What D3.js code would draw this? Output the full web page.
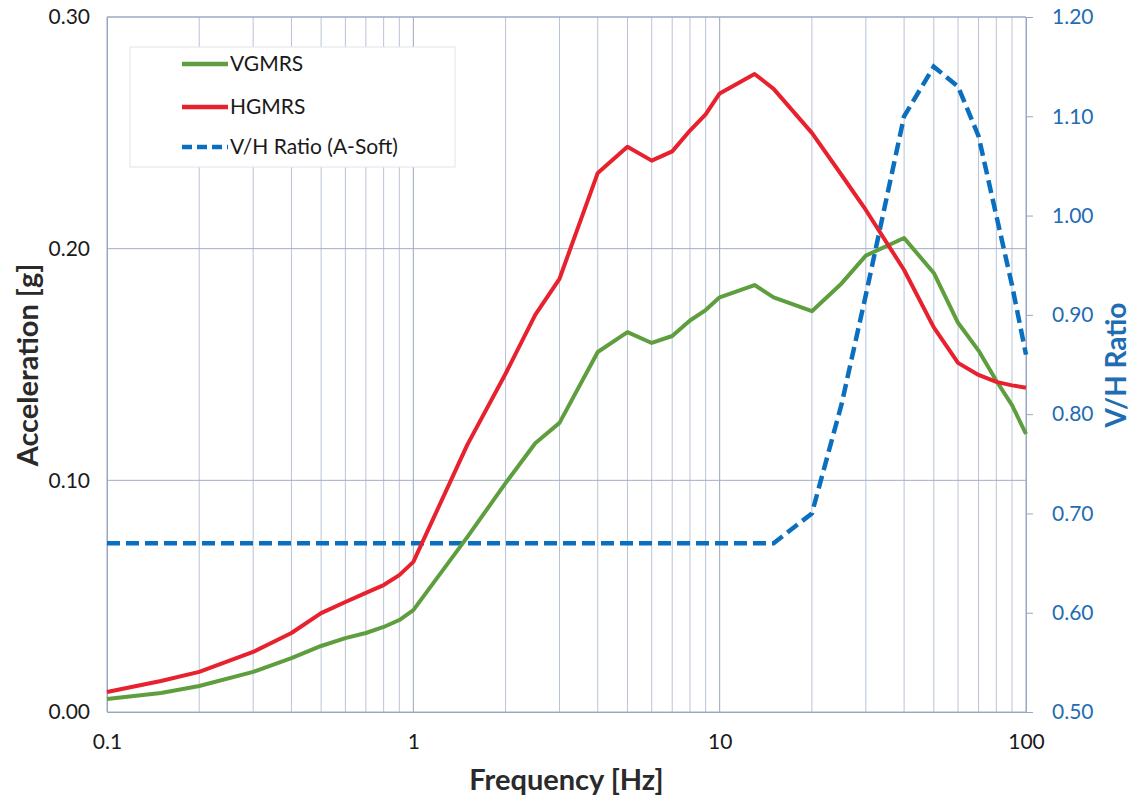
<!DOCTYPE html>
<html lang="en">
<head>
<meta charset="UTF-8">
<title>GMRS and V/H ratio</title>
<script src="https://cdn.jsdelivr.net/npm/d3@7"></script>
<style>
  body { margin: 0; background: #fff; font-family: 'Lato', 'Open Sans', sans-serif; }
  svg text { font-family: 'Lato', 'Open Sans', sans-serif; }
</style>
</head>
<body>
<div id="chart"></div>
<script>
// frequencies [Hz]
const freq = [0.1, 0.15, 0.2, 0.3, 0.4, 0.5, 0.6, 0.7, 0.8, 0.9, 1, 1.5, 2, 2.5, 3, 4, 5, 6, 7, 8, 9, 10,
              13, 15, 20, 25, 30, 40, 50, 60, 70, 80, 90, 100];
// acceleration [g]
const vgmrs = [0.0056, 0.0082, 0.0112, 0.0173, 0.0233, 0.0285, 0.0319, 0.0341, 0.0367, 0.0397, 0.044,
               0.0755, 0.0988, 0.116, 0.1248, 0.1554, 0.164, 0.1593, 0.1623, 0.169, 0.1735, 0.179,
               0.1843, 0.179, 0.173, 0.185, 0.197, 0.2046, 0.1895, 0.168, 0.156, 0.143, 0.1325, 0.120];
const hgmrs = [0.0086, 0.0134, 0.0173, 0.0259, 0.0341, 0.0427, 0.0475, 0.0514, 0.0548, 0.0591, 0.0648,
               0.1153, 0.146, 0.1714, 0.187, 0.2327, 0.244, 0.238, 0.242, 0.251, 0.258, 0.267,
               0.2754, 0.269, 0.250, 0.2318, 0.2167, 0.1908, 0.166, 0.1507, 0.1455, 0.1425, 0.141, 0.140];
// V/H ratio (right axis)
const vhRatio = [0.67, 0.67, 0.67, 0.67, 0.67, 0.67, 0.67, 0.67, 0.67, 0.67, 0.67,
                 0.67, 0.67, 0.67, 0.67, 0.67, 0.67, 0.67, 0.67, 0.67, 0.67, 0.67,
                 0.67, 0.67, 0.70, 0.81, 0.92, 1.10, 1.15, 1.13, 1.08, 1.00, 0.93, 0.86];

const xTicks = [0.1, 1, 10, 100];
const yTicks = [0, 0.1, 0.2, 0.3];
const y2Ticks = [0.5, 0.6, 0.7, 0.8, 0.9, 1.0, 1.1, 1.2];
const seriesNames = ['VGMRS', 'HGMRS', 'V/H Ratio (A-Soft)'];

const W = 1134, H = 799;
const pl = 107, pr = 1026, pt = 17, pb = 712;
const green = '#5f9e3f', red = '#e8212f', blue = '#0b6fbf';
const gridColor = '#b9c3d6';

const svg = d3.select('#chart').append('svg').attr('width', W).attr('height', H);

const x = d3.scaleLog().domain([0.1, 100]).range([pl, pr]);
const y = d3.scaleLinear().domain([0, 0.3]).range([pb, pt]);
const y2 = d3.scaleLinear().domain([0.5, 1.2]).range([pb, pt]);

// vertical grid (every 1..9 of each decade)
const minor = [];
[0.1, 1, 10].forEach(d => { for (let k = 1; k <= 9; k++) minor.push(d * k); });
minor.push(100);
svg.append('g').selectAll('line').data(minor).join('line')
  .attr('x1', d => x(d)).attr('x2', d => x(d))
  .attr('y1', pt).attr('y2', pb)
  .attr('stroke', d => xTicks.includes(d) ? '#9aa6bf' : gridColor)
  .attr('stroke-width', 1);

// horizontal grid
svg.append('g').selectAll('line').data(yTicks).join('line')
  .attr('x1', pl).attr('x2', pr)
  .attr('y1', d => y(d)).attr('y2', d => y(d))
  .attr('stroke', '#a3aec4').attr('stroke-width', 1);

// left axis
svg.append('g')
  .attr('transform', `translate(${pl},0)`)
  .call(d3.axisLeft(y).tickValues(yTicks).tickFormat(d3.format('.2f')).tickSize(0).tickPadding(17))
  .call(g => g.select('.domain').attr('stroke', '#9aa6bf'))
  .call(g => g.selectAll('text').attr('font-size', 21).attr('fill', '#1a1a1a'));

// right axis
svg.append('g')
  .attr('transform', `translate(${pr},0)`)
  .call(d3.axisRight(y2).tickValues(y2Ticks).tickFormat(d3.format('.2f')).tickSize(7).tickPadding(19))
  .call(g => g.select('.domain').attr('stroke', '#9aa6bf'))
  .call(g => g.selectAll('.tick line').attr('stroke', '#9aa6bf'))
  .call(g => g.selectAll('text').attr('font-size', 21).attr('fill', '#1f6db3'));

// bottom axis
svg.append('g')
  .attr('transform', `translate(0,${pb})`)
  .call(d3.axisBottom(x).tickValues(xTicks).tickFormat(d => String(d)).tickSize(0).tickPadding(22))
  .call(g => g.select('.domain').attr('stroke', '#9aa6bf'))
  .call(g => g.selectAll('text').attr('font-size', 21).attr('fill', '#1a1a1a'));

// top border
svg.append('line').attr('x1', pl).attr('x2', pr).attr('y1', pt).attr('y2', pt)
  .attr('stroke', '#9aa6bf');

// axis titles
svg.append('text').attr('x', (pl + pr) / 2).attr('y', 790)
  .attr('text-anchor', 'middle').attr('font-size', 29).attr('font-weight', 'bold')
  .attr('fill', '#2a2a2a').text('Frequency [Hz]');
svg.append('text').attr('transform', 'translate(38,365) rotate(-90)')
  .attr('text-anchor', 'middle').attr('font-size', 29).attr('font-weight', 'bold')
  .attr('fill', '#2a2a2a').text('Acceleration [g]');
svg.append('text').attr('transform', 'translate(1126,365) rotate(-90)')
  .attr('text-anchor', 'middle').attr('font-size', 28).attr('font-weight', 'bold')
  .attr('fill', '#1f6db3').text('V/H Ratio');

// series
const lineL = d3.line().x((d, i) => x(freq[i])).y(d => y(d));
const lineR = d3.line().x((d, i) => x(freq[i])).y(d => y2(d));

svg.append('path').datum(vhRatio).attr('d', lineR)
  .attr('fill', 'none').attr('stroke', blue).attr('stroke-width', 4.5)
  .attr('stroke-dasharray', '13,6');
svg.append('path').datum(vgmrs).attr('d', lineL)
  .attr('fill', 'none').attr('stroke', green).attr('stroke-width', 4).attr('stroke-linejoin', 'round');
svg.append('path').datum(hgmrs).attr('d', lineL)
  .attr('fill', 'none').attr('stroke', red).attr('stroke-width', 4).attr('stroke-linejoin', 'round');

// legend
const lg = svg.append('g');
lg.append('rect').attr('x', 130).attr('y', 47).attr('width', 325).attr('height', 120)
  .attr('fill', '#fff').attr('stroke', '#dfe4ec');
const legendColors = [green, red, blue];
const legendY = [64, 107, 147];
seriesNames.forEach((name, i) => {
  lg.append('line').attr('x1', 182).attr('x2', 228).attr('y1', legendY[i]).attr('y2', legendY[i])
    .attr('stroke', legendColors[i]).attr('stroke-width', 4.5)
    .attr('stroke-dasharray', i === 2 ? '10,5' : null);
  lg.append('text').attr('x', 230).attr('y', legendY[i] + 7)
    .attr('font-size', 21).attr('fill', '#1a1a1a').text(name);
});
</script>
</body>
</html>
